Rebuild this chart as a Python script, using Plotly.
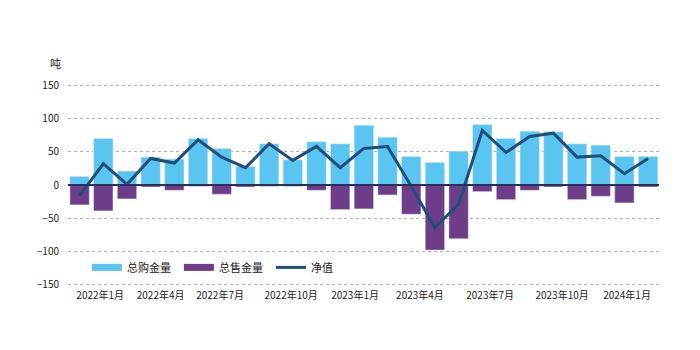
import plotly.graph_objects as go

months = ["2022-01","2022-02","2022-03","2022-04","2022-05","2022-06","2022-07","2022-08",
          "2022-09","2022-10","2022-11","2022-12","2023-01","2023-02","2023-03","2023-04",
          "2023-05","2023-06","2023-07","2023-08","2023-09","2023-10","2023-11","2023-12","2024-01"]
buy = [13, 70, 21, 42, 39, 70, 55, 28, 62, 38, 65, 62, 90, 72, 43, 34, 51, 91, 70, 81, 80, 62, 60, 43, 43]
sell = [-30, -39, -21, -3, -8, -2, -14, -3, -2, -2, -8, -37, -36, -15, -44, -98, -81, -10, -22, -8, -3, -22, -17, -27, -3]
net = [-16, 32, 1, 40, 33, 68, 42, 26, 62, 37, 58, 26, 55, 58, -2, -64, -29, 82, 49, 73, 78, 42, 44, 17, 40]
tick_pos = [0.87, 3.42, 5.93, 8.93, 11.63, 14.37, 17.33, 20.37, 23.11]
tick_text = ["2022年1月","2022年4月","2022年7月","2022年10月","2023年1月","2023年4月","2023年7月","2023年10月","2024年1月"]
y_ticks = [-150, -100, -50, 0, 50, 100, 150]

BUY_C = "#5BC5F2"
SELL_C = "#6E3D8A"
NET_C = "#1F4E79"
FONT = "Noto Sans CJK SC"

x = list(range(len(months)))

fig = go.Figure()
fig.add_trace(go.Bar(x=x, y=buy, marker_color=BUY_C, name="总购金量",
                     showlegend=False, legendgroup="b", hovertext=months))
fig.add_trace(go.Bar(x=x, y=sell, marker_color=SELL_C, name="总售金量",
                     showlegend=False, legendgroup="s", hovertext=months))
fig.add_trace(go.Scatter(x=x, y=net, mode="lines", line=dict(color=NET_C, width=3),
                         name="净值", showlegend=False, legendgroup="n", hovertext=months))
# legend entries (wide swatches like the reference)
fig.add_trace(go.Scatter(x=[None], y=[None], mode="lines", line=dict(color=BUY_C, width=7),
                         name="总购金量", legendgroup="b"))
fig.add_trace(go.Scatter(x=[None], y=[None], mode="lines", line=dict(color=SELL_C, width=7),
                         name="总售金量", legendgroup="s"))
fig.add_trace(go.Scatter(x=[None], y=[None], mode="lines", line=dict(color=NET_C, width=3),
                         name="净值", legendgroup="n"))

fig.add_shape(type="line", xref="paper", x0=0, x1=1, yref="y", y0=0, y1=0,
              line=dict(color="#2B2F5A", width=2), layer="above")

fig.update_layout(
    width=700, height=350,
    margin=dict(l=68, r=41, t=82, b=62),
    paper_bgcolor="white", plot_bgcolor="white",
    barmode="relative", bargap=0.18,
    font=dict(family=FONT, size=10, color="#222222"),
    showlegend=True,
    legend=dict(orientation="h", x=0.032, y=0.1, xanchor="left", yanchor="middle",
                bgcolor="rgba(0,0,0,0)", font=dict(size=11, family=FONT, color="#222222"),
                itemwidth=30, entrywidth=47, traceorder="normal"),
    xaxis=dict(range=[-0.49, 24.46], tickmode="array", tickvals=tick_pos, ticktext=tick_text,
               showgrid=False, zeroline=False, showline=False, ticks="", fixedrange=True,
               tickfont=dict(size=10, family=FONT, color="#222222")),
    yaxis=dict(range=[-155, 155], tickvals=y_ticks, showgrid=True, gridcolor="#B0B0B0",
               griddash="dot", gridwidth=1, zeroline=False, showline=False, ticks="",
               ticklabelstandoff=8, tickfont=dict(size=10, family=FONT, color="#222222")),
)
fig.add_annotation(text="吨", xref="paper", yref="paper", x=-0.008, y=1.09, showarrow=False,
                   xanchor="right", yanchor="middle", font=dict(size=11, family=FONT, color="#222222"))

fig.write_html("out.html")
